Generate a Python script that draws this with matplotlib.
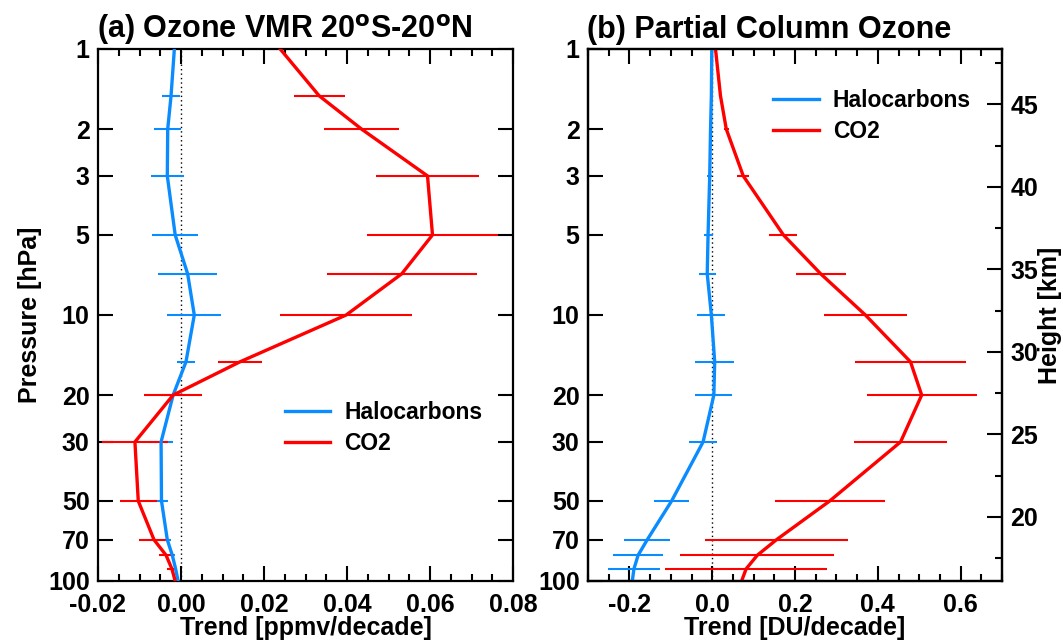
import numpy as np
import matplotlib
matplotlib.use("Agg")
import matplotlib.pyplot as plt
from matplotlib.ticker import FixedLocator, MultipleLocator, NullLocator

plt.rcParams['font.family'] = ['Liberation Sans', 'DejaVu Sans']
plt.rcParams['font.weight'] = 'bold'

# ---------------- data ----------------
pressure = [1, 1.5, 2, 3, 5, 7, 10, 15, 20, 30, 50, 70, 80, 90, 100]

# Panel (a): ozone VMR trend [ppmv/decade]
vmr_halo = [-0.0016, -0.0024, -0.0032, -0.0033, -0.0014, 0.0016, 0.0032, 0.0012,
            -0.0019, -0.0048, -0.0047, -0.0033, -0.0021, -0.0013, -0.0007]
vmr_halo_err = [0.0, 0.0022, 0.0032, 0.0040, 0.0055, 0.0071, 0.0065, 0.0021,
                0.0029, 0.0028, 0.0015, 0.0009, 0.0007, 0.0004, 0.0003]
vmr_co2 = [0.0239, 0.0333, 0.0435, 0.0594, 0.0606, 0.0532, 0.0398, 0.0142,
           -0.0019, -0.0111, -0.0103, -0.0065, -0.0036, -0.0022, -0.0014]
vmr_co2_err = [0.0030, 0.0061, 0.0091, 0.0125, 0.0157, 0.0181, 0.0159, 0.0052,
               0.0070, 0.0080, 0.0044, 0.0037, 0.0018, 0.0011, 0.0006]

# Panel (b): partial column ozone trend [DU/decade]
pc_halo = [-0.001, -0.002, -0.004, -0.006, -0.010, -0.012, -0.002, 0.006,
           0.004, -0.022, -0.098, -0.157, -0.179, -0.189, -0.193]
pc_halo_err = [0.0, 0.0, 0.003, 0.006, 0.011, 0.020, 0.034, 0.047,
               0.045, 0.034, 0.042, 0.056, 0.061, 0.062, 0.063]
pc_co2 = [0.008, 0.020, 0.034, 0.075, 0.172, 0.262, 0.370, 0.479,
          0.506, 0.455, 0.284, 0.155, 0.109, 0.082, 0.071]
pc_co2_err = [0.0, 0.0, 0.006, 0.014, 0.034, 0.060, 0.100, 0.135,
              0.133, 0.112, 0.133, 0.173, 0.186, 0.195, 0.198]

p_ticks = [1, 2, 3, 5, 10, 20, 30, 50, 70, 100]
p_ticklabels = ['1', '2', '3', '5', '10', '20', '30', '50', '70', '100']
km_ticks = [20, 25, 30, 35, 40, 45]

BLUE = '#0a8cff'
RED = '#ff0000'
FS = 18

W, H = 1063, 643
fig = plt.figure(figsize=(W / 100, H / 100), dpi=100)

def px_axes(x0, x1, ytop, ybot):
    return fig.add_axes([x0 / W, 1 - ybot / H, (x1 - x0) / W, (ybot - ytop) / H])

ax1 = px_axes(98, 513, 49, 581)
ax2 = px_axes(588, 1002, 49, 581)

def style(ax, xlim, xminor, xticks, xlabels, xlabel, title):
    ax.set_yscale('log')
    ax.set_ylim(100, 1)
    ax.set_xlim(*xlim)
    ax.axvline(0, color='black', ls=(0, (1, 2.2)), lw=1.0, zorder=1)
    ax.yaxis.set_major_locator(FixedLocator(p_ticks))
    ax.yaxis.set_minor_locator(NullLocator())
    ax.set_yticklabels(p_ticklabels)
    ax.xaxis.set_minor_locator(MultipleLocator(xminor))
    ax.set_xticks(xticks)
    ax.set_xticklabels(xlabels)
    ax.tick_params(axis='both', which='major', direction='in', length=11, width=1.5,
                   labelsize=FS, top=True, pad=6)
    ax.tick_params(axis='x', which='major', pad=9)
    ax.tick_params(axis='x', which='minor', direction='in', length=5, width=1.5, top=True)
    ax.tick_params(axis='y', which='major', right=True)
    for s in ax.spines.values():
        s.set_linewidth(1.6)
    ax.set_xlabel(xlabel, fontsize=FS, fontweight='bold', labelpad=-1)
    ax.set_title(title, loc='left', fontsize=22, fontweight='bold', pad=8, x=-0.003)

def draw(ax, xh, eh, xc, ec):
    lh, = ax.plot(xh, pressure, color=BLUE, lw=2.4, label='Halocarbons', zorder=3)
    lc, = ax.plot(xc, pressure, color=RED, lw=2.4, label='CO2', zorder=3)
    ax.errorbar(xh, pressure, xerr=eh, fmt='none', ecolor=BLUE, elinewidth=1.5, capsize=0, zorder=2)
    ax.errorbar(xc, pressure, xerr=ec, fmt='none', ecolor=RED, elinewidth=1.5, capsize=0, zorder=2)
    return lh, lc

h1 = draw(ax1, vmr_halo, vmr_halo_err, vmr_co2, vmr_co2_err)
style(ax1, (-0.02, 0.08), 0.005, [-0.02, 0.0, 0.02, 0.04, 0.06, 0.08],
      ['-0.02', '0.00', '0.02', '0.04', '0.06', '0.08'],
      'Trend [ppmv/decade]', r'(a) Ozone VMR 20$^\mathsf{o}$S-20$^\mathsf{o}$N')
ax1.set_ylabel('Pressure [hPa]', fontsize=FS, fontweight='bold', labelpad=4)
ax1.legend(handles=list(h1), loc='center left', bbox_to_anchor=(0.40, 0.288), frameon=False,
           fontsize=16.5, handlelength=2.0, handletextpad=0.6, labelspacing=0.35)

h2 = draw(ax2, pc_halo, pc_halo_err, pc_co2, pc_co2_err)
style(ax2, (-0.3, 0.7), 0.05, [-0.2, 0.0, 0.2, 0.4, 0.6],
      ['-0.2', '0.0', '0.2', '0.4', '0.6'],
      'Trend [DU/decade]', '(b) Partial Column Ozone')
ax2.legend(handles=list(h2), loc='center left', bbox_to_anchor=(0.398, 0.874), frameon=False,
           fontsize=16.5, handlelength=2.0, handletextpad=0.6, labelspacing=0.35)
ax2.tick_params(axis='y', which='major', right=False)

# right axis: height (z = 7 km * ln(1000/p))
Hs = 7.0
def p2z(p):
    return Hs * np.log(1000.0 / np.asarray(p, dtype=float))
axr = ax2.twinx()
axr.set_ylim(p2z(100), p2z(1))
axr.yaxis.set_major_locator(FixedLocator(km_ticks))
axr.yaxis.set_minor_locator(MultipleLocator(2.5))
axr.tick_params(axis='y', which='major', direction='in', length=11, width=1.5, labelsize=FS, pad=6)
axr.tick_params(axis='y', which='minor', direction='in', length=5, width=1.5)
axr.set_ylabel('Height [km]', fontsize=FS, fontweight='bold', labelpad=0)
for s in axr.spines.values():
    s.set_linewidth(1.6)

fig.savefig('out.png', dpi=100)
